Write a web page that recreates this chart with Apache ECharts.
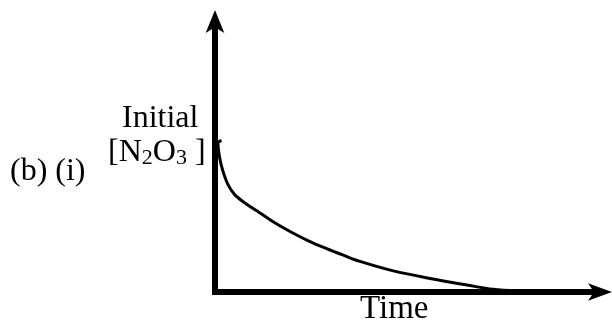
<!DOCTYPE html>
<html>
<head>
<meta charset="utf-8">
<script src="https://cdn.jsdelivr.net/npm/echarts@6/dist/echarts.min.js"></script>
<style>
html,body{margin:0;padding:0;background:#fff;}
#chart{width:612px;height:322px;}
</style>
</head>
<body>
<div id="chart"></div>
<script>
// Time (arbitrary units) and concentration (arbitrary units)
var timeValues = [1.69, 0.78, 1.22, 2.08, 3.38, 5.12, 8.05, 11.69, 15.84, 20.34, 24.68, 29.01, 33.32, 37.66, 46.31, 56.62, 65.38, 72.21, 79.22, 89.6];
var concValues = [56.0, 55.1, 49.5, 44.6, 39.7, 36.0, 32.6, 29.2, 25.3, 21.7, 18.6, 16.0, 13.6, 11.3, 7.8, 4.8, 2.6, 1.0, 0.37, 0.0];
var xAxisTitle = 'Time';
var partLabel = '(b) (i)';
var yTitleLine1 = 'Initial';

var points = timeValues.map(function (t, i) { return [t, concValues[i]]; });

var serif = '"Liberation Serif", "DejaVu Serif", serif';
var chart = echarts.init(document.getElementById('chart'), null, {renderer: 'canvas'});
chart.setOption({
  animation: false,
  backgroundColor: '#ffffff',
  grid: {left: 212, right: 10, top: 20, bottom: 27, containLabel: false},
  xAxis: {
    type: 'value', min: -0.78, max: 100.5,
    axisLine: {show: true, onZero: true, symbol: ['none', 'arrow'], symbolSize: [13, 24], symbolOffset: [0, 10],
      lineStyle: {color: '#000', width: 6, cap: 'butt'}},
    axisTick: {show: false}, axisLabel: {show: false}, splitLine: {show: false}
  },
  yAxis: {
    type: 'value', min: -1.11, max: 100.55,
    axisLine: {show: true, onZero: true, symbol: ['none', 'arrow'], symbolSize: [14, 23], symbolOffset: [0, 10],
      lineStyle: {color: '#000', width: 6, cap: 'butt'}},
    axisTick: {show: false}, axisLabel: {show: false}, splitLine: {show: false}
  },
  series: [{
    type: 'line',
    data: points,
    smooth: 0.35,
    showSymbol: false,
    lineStyle: {color: '#000', width: 3},
    z: 1
  }],
  graphic: [
    {type: 'text', left: 122, top: 103, style: {text: yTitleLine1, font: '32px ' + serif, fill: '#000'}},
    {type: 'text', left: 108, top: 137, style: {
      text: '{m|[N}{s|2}{m|O}{s|3}{m| ]}',
      fill: '#000',
      rich: {
        m: {fontFamily: serif, fontSize: 32, lineHeight: 32, fill: '#000'},
        s: {fontFamily: serif, fontSize: 22, lineHeight: 12, verticalAlign: 'bottom', fill: '#000'}
      }
    }},
    {type: 'text', left: 10, top: 156, style: {text: partLabel, font: '32px ' + serif, fill: '#000'}},
    {type: 'text', left: 360, top: 293, style: {text: xAxisTitle, font: '33px ' + serif, fill: '#000'}}
  ]
});
</script>
</body>
</html>
